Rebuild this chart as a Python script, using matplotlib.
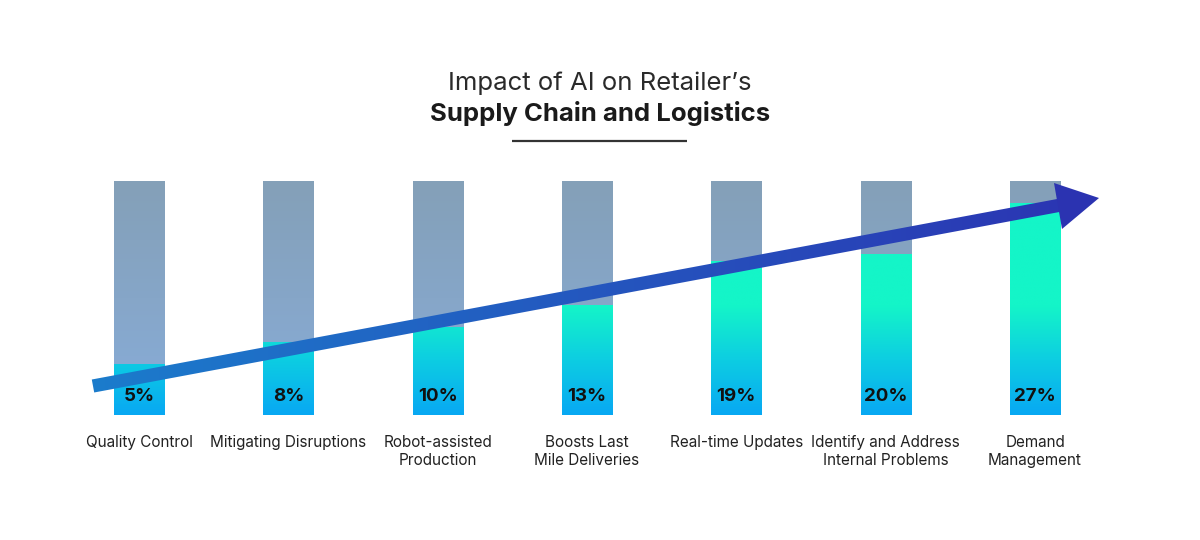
import numpy as np
import matplotlib
matplotlib.use("Agg")
import matplotlib.pyplot as plt
from matplotlib.colors import LinearSegmentedColormap
from matplotlib.patches import Polygon

# ---------------- data ----------------
categories = ["Quality Control", "Mitigating Disruptions", "Robot-assisted\nProduction",
              "Boosts Last\nMile Deliveries", "Real-time Updates",
              "Identify and Address\nInternal Problems", "Demand\nManagement"]
values = [5, 8, 10, 13, 19, 20, 27]
value_labels = ["5%", "8%", "10%", "13%", "19%", "20%", "27%"]
title_line1 = "Impact of AI on Retailer\u2019s"
title_line2 = "Supply Chain and Logistics"

# ---------------- layout ----------------
W, H = 1200, 540
FONT = "Inter"
fig = plt.figure(figsize=(12, 5.4), dpi=100)
fig.patch.set_facecolor("white")

def fx(px):
    return px / W

def fy(py):
    return 1 - py / H

ax_left, ax_right = 64.3, 1109.7
ax_top, ax_bottom = 181.0, 414.7
ax = fig.add_axes([fx(ax_left), fy(ax_bottom), (ax_right - ax_left) / W, (ax_bottom - ax_top) / H])
ymin, ymax = -2, 30
n = len(values)
ax.set_xlim(-0.5, n - 0.5)
ax.set_ylim(ymin, ymax)
ax.axis("off")

bar_w = 0.335
bg_cmap = LinearSegmentedColormap.from_list("bg", ["#88ADDA", "#86A6C8", "#84A0B8"])
fill_cmap = LinearSegmentedColormap.from_list("fill", ["#08A8F3", "#0DCDE2", "#14F5C8"])
green_top = 13.0

ygrid = np.linspace(ymin, ymax, 400).reshape(-1, 1)
bg_img = (ygrid - ymin) / (ymax - ymin)
fill_img = np.clip((ygrid - ymin) / (green_top - ymin), 0, 1)

bg_bars = ax.bar(range(n), [ymax - ymin] * n, bottom=ymin, width=bar_w,
                 color="none", edgecolor="none")
fill_bars = ax.bar(range(n), [v - ymin for v in values], bottom=ymin, width=bar_w,
                   color="none", edgecolor="none")

for i in range(n):
    x0, x1 = i - bar_w / 2, i + bar_w / 2
    im = ax.imshow(bg_img, extent=(x0, x1, ymin, ymax), origin="lower",
                   cmap=bg_cmap, aspect="auto", zorder=1, interpolation="bilinear")
    im.set_clip_path(bg_bars[i])
    im2 = ax.imshow(fill_img, extent=(x0, x1, ymin, ymax), origin="lower",
                    cmap=fill_cmap, vmin=0, vmax=1, aspect="auto", zorder=2,
                    interpolation="bilinear")
    im2.set_clip_path(fill_bars[i])
ax.set_xlim(-0.5, n - 0.5)
ax.set_ylim(ymin, ymax)

px2pt = 0.72
for i, (cat, lab) in enumerate(zip(categories, value_labels)):
    ax.annotate(lab, (i, ymin), xytext=(0, 18.5 * px2pt), textcoords="offset points",
                ha="center", va="center", fontsize=13.5, fontweight="bold",
                color="#111111", family=FONT, zorder=5)
    ax.annotate(cat, (i, ymin), xytext=(0, -20 * px2pt), textcoords="offset points",
                ha="center", va="top", fontsize=11, color="#222222", family=FONT,
                linespacing=1.25, annotation_clip=False)

# ---------------- overlay: arrow + title ----------------
ov = fig.add_axes([0, 0, 1, 1], zorder=10)
ov.set_xlim(0, W)
ov.set_ylim(H, 0)
ov.axis("off")

p0 = np.array([93.0, 386.0])
p1 = np.array([1062.0, 204.8])
u = (p1 - p0) / np.linalg.norm(p1 - p0)
nrm = np.array([-u[1], u[0]])
hw = 6.6
shaft = Polygon([p0 + nrm * hw, p1 + nrm * hw, p1 - nrm * hw, p0 - nrm * hw],
                closed=True, facecolor="none", edgecolor="none")
ov.add_patch(shaft)
arrow_cmap = LinearSegmentedColormap.from_list("arr", ["#1B7CCC", "#2458BF", "#2B36B3"])
xg = np.linspace(0, 1, 400).reshape(1, -1)
ims = ov.imshow(xg, extent=(p0[0] - 5, p1[0] + 5, 170, 400), cmap=arrow_cmap,
                aspect="auto", zorder=3, origin="upper", interpolation="bilinear")
ims.set_clip_path(shaft)
head = Polygon([[1054, 183], [1099, 198], [1062, 229]], closed=True,
               facecolor="#2B33B1", edgecolor="none", zorder=4)
ov.add_patch(head)
ov.set_xlim(0, W)
ov.set_ylim(H, 0)

ov.text(600, 83, title_line1, ha="center", va="center", fontsize=18.5,
        fontweight="normal", color="#2a2a2a", family=FONT)
ov.text(600, 113, title_line2, ha="center", va="center", fontsize=18.5,
        fontweight="bold", color="#1a1a1a", family=FONT)
ov.plot([512, 687], [141, 141], color="#333333", lw=1.6, solid_capstyle="butt")

fig.savefig("out.png", dpi=100, facecolor="white")
